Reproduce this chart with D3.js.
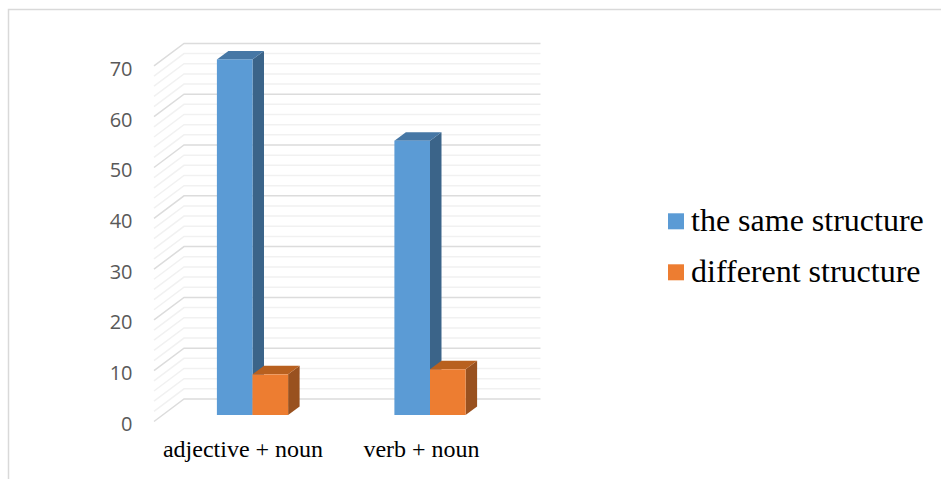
<!DOCTYPE html>
<html><head><meta charset="utf-8">
<script src="https://cdn.jsdelivr.net/npm/d3@7/dist/d3.min.js"></script>
<style>html,body{margin:0;padding:0;background:#fff}svg{display:block}</style></head>
<body><svg id="c" width="941" height="479"></svg>
<script>
const categories = ["adjective + noun", "verb + noun"];
const seriesNames = ["the same structure", "different structure"];
const sameStructure = [70, 54];
const differentStructure = [8, 9];
const yTicks = [0, 10, 20, 30, 40, 50, 60, 70];
const minorTicks = [2,4,6,8,12,14,16,18,22,24,26,28,32,34,36,38,42,44,46,48,52,54,56,58,62,64,66,68];
const colors = ["#5b9bd5", "#ed7d31"];
const sideColors = ["#3b6489", "#99511f"];
const topColors = ["#4677a5", "#b8601f"];

const svg = d3.select("#c");
svg.append("path").attr("d", "M8.5,479V9.5H941").attr("fill","none").attr("stroke","#d9d9d9").attr("stroke-width",1.5);

const h = d3.scaleLinear().domain([0, 70]).range([0, 355.6]);
const labelY = d3.scaleLinear().domain([0, 70]).range([430.7, 76]);
const wallY = v => 399 - h(v), frontY = v => 421.5 - h(v), barY = v => 415 - h(v);
const wallL = 184, wallR = 540.5, sideL = 154;

function gridLine(v, col, w) {
  svg.append("path").attr("d", `M${sideL},${frontY(v)}L${wallL},${wallY(v)}H${wallR}`)
    .attr("fill","none").attr("stroke",col).attr("stroke-width",w);
}
minorTicks.forEach(v => gridLine(v, "#f1f1f1", 1.5));
yTicks.forEach(v => gridLine(v, "#dcdcdc", 1.5));

const x0 = d3.scalePoint().domain(categories).range([252.5, 430]);
const bw = 35.6, dx = 11.5, dy = 8.5;
function bar(cat, v, s) {
  const l = x0(cat) + (s === 0 ? -bw : 0), r = l + bw, t = barY(v), b = barY(0);
  svg.append("path").attr("fill", sideColors[s])
    .attr("d", `M${r},${t}L${r+dx},${t-dy}V${b-dy}L${r},${b}Z`);
  svg.append("path").attr("fill", topColors[s])
    .attr("d", `M${l},${t}L${l+dx},${t-dy}H${r+dx}L${r},${t}Z`);
  svg.append("rect").attr("x", l).attr("y", t).attr("width", bw).attr("height", b - t).attr("fill", colors[s]);
}
categories.forEach((c,i) => { bar(c, sameStructure[i], 0); bar(c, differentStructure[i], 1); });

yTicks.forEach(v => svg.append("text").attr("x", 132.5).attr("y", labelY(v))
  .attr("text-anchor","end").attr("font-family","'Open Sans'").attr("font-size",20).attr("fill","#595959").text(v));

const catX = [243, 421.5];
categories.forEach((c,i) => svg.append("text").attr("x", catX[i]).attr("y", 457.3)
  .attr("text-anchor","middle").attr("font-family","'Liberation Serif'").attr("font-size",24).attr("fill","#000").text(c));

const legY = [222, 273];
seriesNames.forEach((n,i) => {
  svg.append("rect").attr("x", 668).attr("y", legY[i]-8.7).attr("width",16).attr("height",16).attr("fill",colors[i]);
  svg.append("text").attr("x", 691).attr("y", legY[i]+8.7).attr("font-family","'Liberation Serif'").attr("font-size",32).attr("fill","#000").text(n);
});
</script></body></html>
